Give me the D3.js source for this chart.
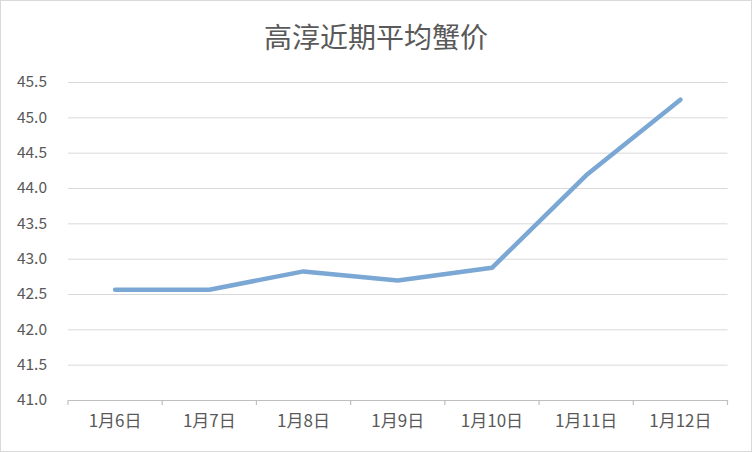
<!DOCTYPE html>
<html><head><meta charset="utf-8">
<script src="https://cdn.jsdelivr.net/npm/d3@7"></script>
<style>body{margin:0;background:#fff;} svg{display:block;}</style>
</head><body>
<script>
const categories = ["1月6日","1月7日","1月8日","1月9日","1月10日","1月11日","1月12日"];
const prices = [42.56, 42.56, 42.82, 42.69, 42.87, 44.18, 45.25];
const yTicks = [41.0,41.5,42.0,42.5,43.0,43.5,44.0,44.5,45.0,45.5];
const title = "高淳近期平均蟹价";

(function(){
const W = 752, H = 452;
const svg = d3.select("body").append("svg").attr("width", W).attr("height", H);
svg.append("rect").attr("x",0.5).attr("y",0.5).attr("width",W-1).attr("height",H-1)
  .attr("fill","#fff").attr("stroke","#d9d9d9");

const mL = 68, mR = 727.5, mT = 82, mB = 400;
const x = d3.scaleBand().domain(categories).range([mL, mR]).padding(0);
const y = d3.scaleLinear().domain([41, 45.5]).range([mB, mT]);
const font = "'Noto Sans CJK SC', 'Microsoft YaHei', sans-serif";

svg.append("text").attr("x", W/2).attr("y", 48).attr("text-anchor","middle")
  .attr("font-family", font).attr("font-size", 28).attr("fill","#595959").text(title);

const yAxis = d3.axisLeft(y).tickValues(yTicks).tickFormat(d3.format(".1f")).tickSize(-(mR-mL)).tickPadding(21);
const gy = svg.append("g").attr("transform", `translate(${mL},0)`).call(yAxis);
gy.select(".domain").remove();
gy.selectAll(".tick line").attr("stroke","#d9d9d9").attr("stroke-width",1);
gy.selectAll(".tick text").attr("font-family", font).attr("font-size", 15.5).attr("fill","#595959");

const xAxis = d3.axisBottom(x).tickSize(0).tickPadding(15);
const gx = svg.append("g").attr("transform", `translate(0,${mB})`).call(xAxis);
gx.select(".domain").attr("stroke","#bfbfbf").attr("stroke-width",1.2);
gx.selectAll(".tick text").attr("font-family", font).attr("font-size", 17).attr("fill","#595959");
const bounds = categories.map(c => x(c)).concat([x(categories[categories.length-1]) + x.bandwidth()]);
svg.append("g").selectAll("line").data(bounds).join("line")
  .attr("x1", d=>d).attr("x2", d=>d).attr("y1", mB).attr("y2", mB+5)
  .attr("stroke","#bfbfbf").attr("stroke-width",1.2);

const line = d3.line().x((d,i)=>x(categories[i]) + x.bandwidth()/2).y(d=>y(d));
svg.append("path").datum(prices).attr("d", line).attr("fill","none")
  .attr("stroke","#7ba7d4").attr("stroke-width",4.5).attr("stroke-linecap","round").attr("stroke-linejoin","round");
})();
</script>
</body></html>
